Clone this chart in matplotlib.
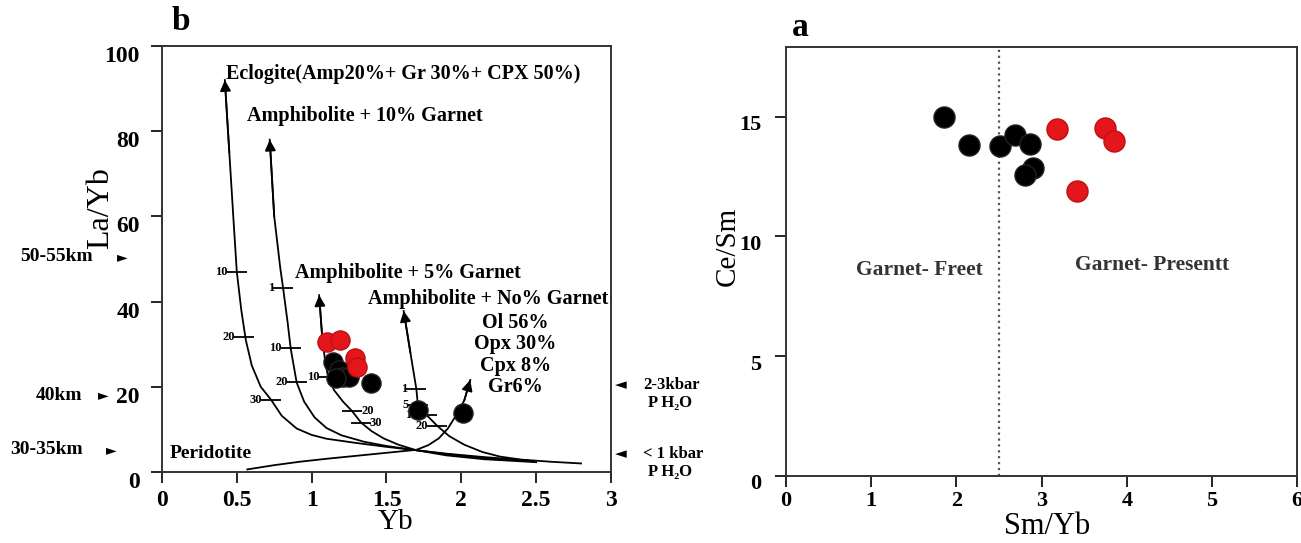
import matplotlib
matplotlib.use("Agg")
import matplotlib.pyplot as plt
from matplotlib.transforms import ScaledTranslation

plt.rcParams['font.family'] = ['Liberation Serif', 'DejaVu Serif']
plt.rcParams['font.weight'] = 'bold'

# ---- panel b : La/Yb vs Yb ----
samples_red_yb = [1.10, 1.19, 1.29, 1.30]
samples_red_layb = [30.4, 30.9, 26.8, 24.7]
samples_blk_yb = [1.14, 1.18, 1.21, 1.25, 1.16, 1.40, 1.71, 2.01]
samples_blk_layb = [25.9, 23.9, 22.3, 22.3, 22.0, 21.0, 14.5, 13.8]

ecl_x = [0.42, 0.45, 0.48, 0.50, 0.53, 0.56, 0.60, 0.66, 0.73, 0.80, 0.90, 1.00, 1.10, 1.30, 1.50, 1.70, 1.90, 2.15, 2.45]
ecl_y = [92, 75, 58, 47, 38, 31, 25, 20, 16.9, 13.2, 10.2, 8.7, 7.8, 6.8, 5.9, 5.1, 4.3, 3.5, 2.7]
g10_x = [0.72, 0.75, 0.79, 0.81, 0.84, 0.86, 0.90, 0.95, 1.02, 1.10, 1.20, 1.35, 1.50, 1.70, 1.90, 2.15, 2.48]
g10_y = [78, 60, 48, 43, 35, 29, 21, 16.5, 12.8, 10.3, 8.6, 7.1, 6.1, 5.1, 4.2, 3.3, 2.5]
g5_x = [1.05, 1.07, 1.09, 1.11, 1.15, 1.21, 1.27, 1.33, 1.40, 1.48, 1.58, 1.70, 1.90, 2.15, 2.50]
g5_y = [41.5, 32, 26, 22.3, 19.2, 16.5, 14.3, 11.6, 9.6, 7.9, 6.4, 5.1, 3.9, 3.0, 2.3]
g0_x = [1.615, 1.66, 1.70, 1.71, 1.77, 1.84, 1.92, 2.02, 2.14, 2.26, 2.40, 2.60, 2.80]
g0_y = [37.8, 28, 19.4, 15.7, 13.3, 10.8, 8.4, 6.4, 4.7, 3.6, 2.9, 2.4, 2.0]
per_x = [0.57, 0.75, 0.92, 1.10, 1.30, 1.50, 1.70, 1.78, 1.85, 1.91, 1.96, 2.02, 2.06]
per_y = [0.6, 1.6, 2.4, 3.1, 3.8, 4.5, 5.2, 6.3, 7.9, 10.2, 13.0, 16.8, 21.6]

# melting-degree marks on the curves
mark_x = [0.50, 0.55, 0.73, 0.81, 0.86, 0.90, 1.11, 1.27, 1.33, 1.70, 1.71, 1.77, 1.84]
mark_y = [47, 31.8, 16.9, 43.3, 29, 21.2, 22.3, 14.3, 11.6, 19.4, 15.7, 13.3, 10.8]
mark_lbl = ['10', '20', '30', '1', '10', '20', '10', '20', '30', '1', '5', '10', '20']
mark_side = ['l', 'l', 'l', 'l', 'l', 'l', 'l', 'r', 'r', 'l', 'l', 'l', 'l']

depth_lbl = ['50-55km', '40km', '30-35km']
depth_y = [50.5, 18.0, 5.2]
press_lbl = ['2-3kbar', '< 1 kbar']
press_y = [20.4, 4.2]

# ---- panel a : Ce/Sm vs Sm/Yb ----
smyb_blk = [1.86, 2.15, 2.51, 2.69, 2.86, 2.90, 2.81]
cesm_blk = [14.96, 13.83, 13.77, 14.24, 13.86, 12.87, 12.58]
smyb_red = [3.18, 3.41, 3.75, 3.85]
cesm_red = [14.48, 11.89, 14.52, 13.98]

fig = plt.figure(figsize=(13.01, 5.43), dpi=100)
axb = fig.add_axes([0.1245, 0.1308, 0.3451, 0.7845])
axa = fig.add_axes([0.6042, 0.1234, 0.3928, 0.79])


def draw_curve(ax, xs, ys):
    ax.plot(xs, ys, color='black', lw=1.3)
    # arrow head at the upper end of the curve
    if ys[-1] > ys[0]:
        tip, prev = (xs[-1], ys[-1]), (xs[-2], ys[-2])
    else:
        tip, prev = (xs[0], ys[0]), (xs[1], ys[1])
    ax.annotate('', xy=tip, xytext=prev,
                arrowprops=dict(arrowstyle='-|>', color='black', lw=1.3,
                                mutation_scale=16, shrinkA=0, shrinkB=0))


for cx, cy in [(ecl_x, ecl_y), (g10_x, g10_y), (g5_x, g5_y), (g0_x, g0_y), (per_x, per_y)]:
    draw_curve(axb, cx, cy)

axb.plot(mark_x, mark_y, ls='none', marker='_', ms=14, mew=1.3, color='black')
for x, y, t, s in zip(mark_x, mark_y, mark_lbl, mark_side):
    if s == 'l':
        axb.text(x - 0.06, y, t, ha='right', va='center', fontsize=9)
    else:
        axb.text(x + 0.06, y, t, ha='left', va='center', fontsize=9)

axb.scatter(samples_blk_yb, samples_blk_layb, s=190, c='black', edgecolors='#222222', zorder=5)
axb.scatter(samples_red_yb, samples_red_layb, s=190, c='#e3171b', edgecolors='#c01010', zorder=6)

axb.text(0.43, 93.5, 'Eclogite(Amp20%+ Gr 30%+ CPX 50%)', fontsize=14.5, va='center')
axb.text(0.565, 83.6, 'Amphibolite + 10% Garnet', fontsize=14.5, va='center')
axb.text(0.89, 46.8, 'Amphibolite + 5% Garnet', fontsize=14.5, va='center')
axb.text(1.377, 40.7, 'Amphibolite + No% Garnet', fontsize=14.5, va='center')
for i, t in enumerate(['Ol 56%', 'Opx 30%', 'Cpx 8%', 'Gr6%']):
    axb.text(2.36, 35.0 - i * 5.05, t, fontsize=14.5, ha='center', va='center')
axb.text(0.05, 4.3, 'Peridotite', fontsize=14, va='center')

axb.set_xlim(0, 3)
axb.set_ylim(0, 100)
axb.set_xticks([0, 0.5, 1, 1.5, 2, 2.5, 3])
axb.set_xticklabels(['0', '0.5', '1', '1.5', '2', '2.5', '3'])
axb.set_yticks([0, 20, 40, 60, 80, 100])
axb.set_xlabel('Yb', fontsize=21)
axb.xaxis.set_label_coords(0.52, -0.088)
axb.set_ylabel('La/Yb', fontsize=23)
axb.yaxis.set_label_coords(-0.104, 0.62)
axb.tick_params(labelsize=17, direction='out', length=8, width=1.2)
axb.tick_params(axis='x', pad=5)
axb.tick_params(axis='y', pad=8)
for lab in axb.get_yticklabels():
    lab.set_transform(lab.get_transform() + ScaledTranslation(0, -8 / 100, fig.dpi_scale_trans))
for sp in axb.spines.values():
    sp.set_linewidth(1.4)
    sp.set_color('#333333')
axb.text(0.022, 1.02, 'b', transform=axb.transAxes, fontsize=24, ha='left', va='bottom')

# depth and pressure annotations outside the frame
depth_text_x = [-0.154, -0.178, -0.176]
depth_arrow_x = [-0.076, -0.12, -0.10]
for t, y, tx, ax_ in zip(depth_lbl, depth_y, depth_text_x, depth_arrow_x):
    axb.annotate(t, xy=(tx, y), xycoords=('axes fraction', 'data'),
                 ha='right', va='center', fontsize=14, annotation_clip=False)
    axb.annotate('\u25ba', xy=(ax_, y), xycoords=('axes fraction', 'data'),
                 ha='right', va='center', fontsize=10, annotation_clip=False,
                 family=['DejaVu Sans'])
for t, y in zip(press_lbl, press_y):
    axb.annotate('\u25c4', xy=(1.009, y), xycoords=('axes fraction', 'data'),
                 ha='left', va='center', fontsize=11, annotation_clip=False,
                 family=['DejaVu Sans'])
    axb.annotate(t, xy=(1.072, y), xycoords=('axes fraction', 'data'),
                 ha='left', va='center', fontsize=12, annotation_clip=False)
    axb.annotate('P H\u2082O', xy=(1.131, y - 4.2), xycoords=('axes fraction', 'data'),
                 ha='center', va='center', fontsize=12, annotation_clip=False)

# ---- panel a ----
axa.axvline(2.5, color='#555555', ls=':', lw=1.6)
axa.scatter(smyb_blk, cesm_blk, s=230, c='black', edgecolors='#222222', zorder=5)
axa.scatter(smyb_red, cesm_red, s=230, c='#e3171b', edgecolors='#c01010', zorder=6)
axa.text(1.57, 8.6, 'Garnet- Freet', fontsize=15.5, ha='center', va='center', color='#333333')
axa.text(4.3, 8.8, 'Garnet- Presentt', fontsize=15.5, ha='center', va='center', color='#333333')
axa.set_xlim(0, 6)
axa.set_ylim(0, 17.9)
axa.set_xticks([0, 1, 2, 3, 4, 5, 6])
axa.set_yticks([0, 5, 10, 15])
axa.set_xlabel('Sm/Yb', fontsize=22)
axa.xaxis.set_label_coords(0.51, -0.085)
axa.set_ylabel('Ce/Sm', fontsize=21)
axa.yaxis.set_label_coords(-0.088, 0.535)
axa.tick_params(labelsize=16, direction='out', length=8, width=1.2, pad=10)
axa.tick_params(axis='x', pad=3)
for lab in axa.get_yticklabels():
    lab.set_transform(lab.get_transform() + ScaledTranslation(0, -6 / 100, fig.dpi_scale_trans))
for sp in axa.spines.values():
    sp.set_linewidth(1.4)
    sp.set_color('#333333')
axa.text(0.012, 1.01, 'a', transform=axa.transAxes, fontsize=24, ha='left', va='bottom')

fig.savefig('out.png', dpi=100)
